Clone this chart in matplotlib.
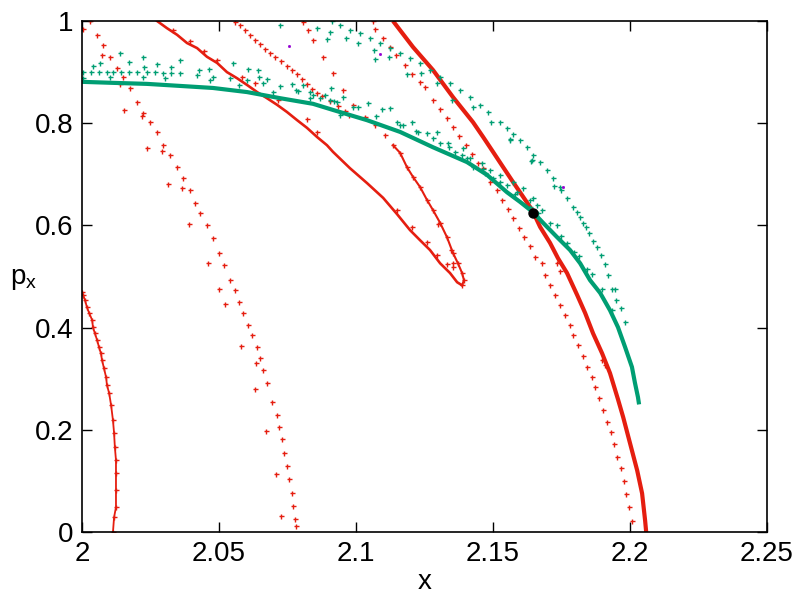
import numpy as np
import matplotlib
matplotlib.use("Agg")
import matplotlib.pyplot as plt

plt.rcParams['font.family'] = ['Liberation Sans', 'DejaVu Sans']

RED = '#e51e10'
GREEN = '#009e73'
PURPLE = '#9400d3'

# unstable manifold, dense branch through the fixed point
r_main_x = [2.1135, 2.1208, 2.1281, 2.1354, 2.1427, 2.1464, 2.1500, 2.1537, 2.1573, 2.1610,
            2.1643, 2.1672, 2.1708, 2.1737, 2.1770, 2.1807, 2.1836, 2.1865, 2.1898, 2.1927,
            2.1956, 2.1975, 2.2000, 2.2026, 2.2044, 2.2055, 2.2059]
r_main_y = [1.000, 0.949, 0.904, 0.851, 0.802, 0.773, 0.744, 0.714, 0.685, 0.656,
            0.630, 0.597, 0.566, 0.536, 0.507, 0.464, 0.429, 0.389, 0.350, 0.311,
            0.260, 0.225, 0.174, 0.121, 0.076, 0.023, 0.000]

# far left dense red branch
r_left_x = [2.0000, 2.0004, 2.0011, 2.0018, 2.0026, 2.0037, 2.0040, 2.0047, 2.0055, 2.0062,
            2.0069, 2.0073, 2.0080, 2.0088, 2.0091, 2.0099, 2.0106, 2.0113, 2.0117, 2.0120,
            2.0124, 2.0124, 2.0124, 2.0124, 2.0117, 2.0113]
r_left_y = [0.470, 0.464, 0.454, 0.440, 0.429, 0.415, 0.401, 0.389, 0.376, 0.362,
            0.350, 0.337, 0.321, 0.303, 0.288, 0.272, 0.249, 0.219, 0.194, 0.166,
            0.141, 0.115, 0.082, 0.049, 0.029, 0.000]

# sparse red branch from top left to x~2.078
r_dot1_x = [2.0029, 2.0055, 2.0077, 2.0102, 2.0128, 2.0150, 2.0175, 2.0201, 2.0223, 2.0248,
            2.0274, 2.0296, 2.0321, 2.0347, 2.0369, 2.0394, 2.0412, 2.0431, 2.0456, 2.0478,
            2.0500, 2.0518, 2.0540, 2.0558, 2.0573, 2.0588, 2.0606, 2.0621, 2.0639, 2.0650,
            2.0661, 2.0675, 2.0694, 2.0712, 2.0719, 2.0730, 2.0737, 2.0748, 2.0756, 2.0767,
            2.0770, 2.0777, 2.0781]
r_dot1_y = [1.000, 0.973, 0.953, 0.930, 0.908, 0.890, 0.869, 0.841, 0.820, 0.802,
            0.783, 0.757, 0.738, 0.714, 0.693, 0.669, 0.644, 0.624, 0.601, 0.575,
            0.546, 0.523, 0.493, 0.474, 0.450, 0.429, 0.405, 0.386, 0.362, 0.341,
            0.317, 0.292, 0.254, 0.229, 0.205, 0.182, 0.155, 0.129, 0.104, 0.076,
            0.051, 0.025, 0.012]

# loop (outer branch dense, down to tip)
r_loop_out_x = [2.0274, 2.0310, 2.0347, 2.0383, 2.0420, 2.0456, 2.0493, 2.0529, 2.0566, 2.0602,
                2.0639, 2.0675, 2.0712, 2.0748, 2.0785, 2.0821, 2.0858, 2.0894, 2.0916, 2.0978,
                2.1040, 2.1099, 2.1150, 2.1197, 2.1234, 2.1270, 2.1307, 2.1343, 2.1369, 2.1387]
r_loop_out_y = [1.000, 0.986, 0.973, 0.957, 0.947, 0.930, 0.918, 0.900, 0.888, 0.875,
                0.861, 0.849, 0.836, 0.822, 0.806, 0.791, 0.773, 0.757, 0.744, 0.712,
                0.683, 0.654, 0.622, 0.591, 0.571, 0.552, 0.526, 0.507, 0.489, 0.483]

# loop inner branch, from tip back to the top
r_loop_in_x = [2.1387, 2.1394, 2.1387, 2.1372, 2.1354, 2.1332, 2.1307, 2.1281, 2.1259, 2.1234,
               2.1208, 2.1186, 2.1161, 2.1135, 2.1106, 2.1069, 2.1033, 2.0989, 2.0953, 2.0916,
               2.0880, 2.0843, 2.0825, 2.0807]
r_loop_in_y = [0.483, 0.493, 0.507, 0.526, 0.546, 0.577, 0.605, 0.630, 0.650, 0.675,
               0.695, 0.714, 0.742, 0.757, 0.777, 0.796, 0.812, 0.836, 0.865, 0.898,
               0.930, 0.963, 0.982, 0.998]

# short red dotted line near the top
r_dot2_x = [2.0558, 2.0577, 2.0595, 2.0613, 2.0631, 2.0650, 2.0668, 2.0686, 2.0704, 2.0726,
            2.0748, 2.0767, 2.0785, 2.0803, 2.0821, 2.0840, 2.0858, 2.0876, 2.0905, 2.0934,
            2.0960, 2.0975]
r_dot2_y = [0.998, 0.992, 0.982, 0.973, 0.963, 0.955, 0.945, 0.937, 0.930, 0.922,
            0.912, 0.904, 0.896, 0.886, 0.877, 0.867, 0.859, 0.853, 0.843, 0.834,
            0.824, 0.816]

# red dotted line left of the main branch
r_dot3_x = [2.1062, 2.1069, 2.1099, 2.1124, 2.1146, 2.1179, 2.1205, 2.1234, 2.1252, 2.1281,
            2.1307, 2.1332, 2.1354, 2.1376, 2.1402, 2.1423, 2.1445, 2.1464, 2.1489, 2.1515,
            2.1533, 2.1555, 2.1573, 2.1595, 2.1613, 2.1635, 2.1653, 2.1679, 2.1690, 2.1708,
            2.1726, 2.1745, 2.1763, 2.1781, 2.1792, 2.1810, 2.1829, 2.1843, 2.1862, 2.1872,
            2.1887, 2.1902, 2.1916, 2.1931, 2.1942, 2.1953, 2.1967, 2.1978, 2.1986, 2.1996,
            2.2007]
r_dot3_y = [1.000, 0.984, 0.967, 0.949, 0.933, 0.914, 0.896, 0.881, 0.871, 0.845,
            0.828, 0.810, 0.793, 0.775, 0.757, 0.740, 0.722, 0.712, 0.685, 0.669,
            0.650, 0.632, 0.614, 0.595, 0.577, 0.560, 0.538, 0.526, 0.503, 0.483,
            0.464, 0.444, 0.425, 0.405, 0.386, 0.366, 0.344, 0.323, 0.303, 0.284,
            0.262, 0.239, 0.215, 0.196, 0.172, 0.147, 0.125, 0.100, 0.074, 0.049,
            0.022]

# stray red points
r_scat_x = [2.0391, 2.0460, 2.0500, 2.0522, 2.0580, 2.0635, 2.0631, 2.0672, 2.0708, 2.0726,
            2.0153, 2.0073, 2.0004, 2.0219, 2.0237, 2.0292, 2.0314, 2.0365, 2.0139,
            2.0332, 2.0394, 2.0445, 2.0493, 2.0584, 2.0631, 2.0715, 2.0821, 2.0858,
            2.1150, 2.1205, 2.1259, 2.1296, 2.1332, 2.1354, 2.1354, 2.1299, 2.1347,
            2.1734, 2.1745, 2.1898, 2.1909]
r_scat_y = [0.603, 0.526, 0.476, 0.446, 0.364, 0.331, 0.280, 0.198, 0.114, 0.031,
            0.826, 0.933, 0.984, 0.814, 0.751, 0.746, 0.681, 0.673, 0.877,
            0.982, 0.961, 0.941, 0.924, 0.890, 0.879, 0.845, 0.808, 0.783,
            0.630, 0.597, 0.568, 0.542, 0.524, 0.519, 0.526, 0.603, 0.552,
            0.526, 0.511, 0.337, 0.327]

# stable manifold, dense green branch
g_main_x = [2.0000, 2.0113, 2.0237, 2.0358, 2.0478, 2.0602, 2.0723, 2.0843, 2.0916, 2.1040,
            2.1161, 2.1281, 2.1405, 2.1478, 2.1551, 2.1599, 2.1646, 2.1683, 2.1734, 2.1781,
            2.1818, 2.1854, 2.1891, 2.1927, 2.1956, 2.1982, 2.2007, 2.2018, 2.2029, 2.2033]
g_main_y = [0.881, 0.879, 0.877, 0.873, 0.869, 0.861, 0.849, 0.838, 0.826, 0.806,
            0.783, 0.753, 0.724, 0.699, 0.665, 0.646, 0.626, 0.605, 0.577, 0.552,
            0.526, 0.493, 0.468, 0.434, 0.401, 0.362, 0.323, 0.292, 0.264, 0.250]

# upper green dotted arc
g_arc_x = [2.0913, 2.0942, 2.0978, 2.1015, 2.1051, 2.1088, 2.1124, 2.1161, 2.1197, 2.1234,
           2.1270, 2.1307, 2.1343, 2.1380, 2.1416, 2.1453, 2.1482, 2.1526, 2.1551, 2.1573,
           2.1599, 2.1624, 2.1646, 2.1672, 2.1697, 2.1719, 2.1745, 2.1770, 2.1792, 2.1807,
           2.1818, 2.1829, 2.1839, 2.1850, 2.1865, 2.1880, 2.1894, 2.1909, 2.1920, 2.1934,
           2.1949, 2.1967, 2.1982]
g_arc_y = [1.000, 0.992, 0.982, 0.977, 0.967, 0.957, 0.947, 0.937, 0.928, 0.918,
           0.904, 0.890, 0.879, 0.865, 0.851, 0.836, 0.822, 0.802, 0.791, 0.779,
           0.767, 0.753, 0.738, 0.724, 0.708, 0.693, 0.675, 0.654, 0.636, 0.626,
           0.616, 0.605, 0.597, 0.585, 0.569, 0.558, 0.542, 0.524, 0.503, 0.476,
           0.454, 0.438, 0.411]

# green dotted band just above the main branch
g_band_x = [2.0004, 2.0033, 2.0062, 2.0091, 2.0113, 2.0142, 2.0172, 2.0201, 2.0237, 2.0266,
            2.0296, 2.0325, 2.0358, 2.0420, 2.0478, 2.0540, 2.0602, 2.0661, 2.0723, 2.0780,
            2.0843, 2.0920, 2.0989, 2.1073, 2.1161, 2.1220, 2.1281, 2.1340, 2.1405, 2.1465,
            2.1526, 2.1580, 2.1635]
g_band_y = [0.900, 0.900, 0.900, 0.900, 0.900, 0.900, 0.900, 0.900, 0.900, 0.900,
            0.899, 0.899, 0.898, 0.894, 0.890, 0.888, 0.885, 0.879, 0.873, 0.865,
            0.855, 0.844, 0.832, 0.815, 0.796, 0.785, 0.771, 0.753, 0.732, 0.710,
            0.685, 0.661, 0.636]

# stray green points
g_scat_x = [2.0139, 2.0223, 2.0172, 2.0066, 2.0040, 2.0274, 2.0325, 2.0358, 2.0226, 2.0223,
            2.0102, 2.0004, 2.0427, 2.0464, 2.0303, 2.0467, 2.0723, 2.0858, 2.0894, 2.0551,
            2.0606, 2.0642, 2.0646, 2.0675, 2.0573, 2.0697, 2.0767, 2.0788, 2.0832, 2.0887,
            2.0905, 2.0964, 2.1007, 2.1066, 2.1069, 2.1121, 2.1186, 2.1237, 2.1296, 2.1350,
            2.1427, 2.1493, 2.1562, 2.1639, 2.0909, 2.0931, 2.0942,
            2.0807, 2.0832, 2.0869, 2.0905, 2.0953, 2.1007, 2.1044, 2.1095, 2.1124, 2.1150,
            2.1172, 2.1204, 2.1226, 2.1259, 2.1296, 2.1307, 2.1336, 2.1361, 2.1391, 2.1387,
            2.1416, 2.1427, 2.1460, 2.1471, 2.1489, 2.1500, 2.1526, 2.1551, 2.1573, 2.1588,
            2.1610, 2.1635, 2.1646, 2.1661, 2.1679,
            2.1664, 2.1708, 2.1734, 2.1748, 2.1770, 2.1796, 2.1814, 2.1843, 2.1862, 2.1898,
            2.1934, 2.1945, 2.1562, 2.1642, 2.1723, 2.1748]
g_scat_y = [0.937, 0.930, 0.920, 0.918, 0.912, 0.916, 0.910, 0.924, 0.910, 0.890,
            0.890, 0.888, 0.904, 0.906, 0.888, 0.885, 0.992, 0.986, 0.965, 0.918,
            0.906, 0.904, 0.890, 0.886, 0.875, 0.861, 0.877, 0.863, 0.849, 0.855,
            0.978, 0.967, 0.957, 0.943, 0.926, 0.930, 0.896, 0.898, 0.879, 0.845,
            0.832, 0.802, 0.767, 0.726, 0.869, 0.841, 0.816,
            0.875, 0.861, 0.849, 0.845, 0.851, 0.832, 0.840, 0.828, 0.830, 0.802,
            0.796, 0.802, 0.783, 0.781, 0.783, 0.761, 0.761, 0.744, 0.751, 0.738,
            0.732, 0.714, 0.722, 0.703, 0.708, 0.693, 0.699, 0.679, 0.685, 0.665,
            0.673, 0.650, 0.654, 0.640, 0.630,
            0.624, 0.605, 0.601, 0.579, 0.566, 0.548, 0.540, 0.515, 0.505, 0.476,
            0.434, 0.476, 0.769, 0.728, 0.677, 0.669]

# a few purple points
p_scat_x = [2.0756, 2.1088, 2.1755]
p_scat_y = [0.951, 0.935, 0.675]

# hyperbolic fixed point
fp_x = [2.1646]
fp_y = [0.624]

fig = plt.figure(figsize=(8, 6), dpi=100)
ax = fig.add_axes([0.1025, 0.113, 0.8563, 0.852])

dot = dict(linestyle='none', marker='+', markersize=3.6, markeredgewidth=1.0)

ax.plot(r_main_x, r_main_y, color=RED, lw=3.0, solid_capstyle='butt')
ax.plot(r_left_x, r_left_y, color=RED, lw=1.3)
ax.plot(r_left_x, r_left_y, color=RED, **dot)
ax.plot(r_loop_out_x, r_loop_out_y, color=RED, lw=1.9)
ax.plot(r_loop_in_x[:14], r_loop_in_y[:14], color=RED, lw=1.5)
ax.plot(r_loop_in_x, r_loop_in_y, color=RED, **dot)
ax.plot(r_dot1_x, r_dot1_y, color=RED, **dot)
ax.plot(r_dot2_x, r_dot2_y, color=RED, **dot)
ax.plot(r_dot3_x, r_dot3_y, color=RED, **dot)
ax.plot(r_scat_x, r_scat_y, color=RED, **dot)

ax.plot(g_main_x, g_main_y, color=GREEN, lw=3.0, solid_capstyle='butt')
ax.plot(g_arc_x, g_arc_y, color=GREEN, **dot)
ax.plot(g_band_x, g_band_y, color=GREEN, **dot)
ax.plot(g_scat_x, g_scat_y, color=GREEN, **dot)
ax.plot(p_scat_x, p_scat_y, color=PURPLE, linestyle='none', marker='s', markersize=1)

ax.plot(fp_x, fp_y, color='black', linestyle='none', marker='o', markersize=6.5)

ax.set_xlim(2, 2.25)
ax.set_ylim(0, 1)
ax.set_xticks([2, 2.05, 2.1, 2.15, 2.2, 2.25])
ax.set_xticklabels(['2', '2.05', '2.1', '2.15', '2.2', '2.25'])
ax.set_yticks([0, 0.2, 0.4, 0.6, 0.8, 1])
ax.set_yticklabels(['0', '0.2', '0.4', '0.6', '0.8', '1'])
ax.tick_params(direction='in', length=7, width=1, top=True, right=True,
               labelsize=20, pad=6)
for s in ax.spines.values():
    s.set_linewidth(1.2)

ax.set_xlabel('x', fontsize=20, labelpad=2)
ax.set_ylabel(r'$\mathregular{p_x}$', fontsize=20, rotation=0, labelpad=14)
ax.yaxis.set_label_coords(-0.085, 0.47)

fig.savefig('out.png', dpi=100)
